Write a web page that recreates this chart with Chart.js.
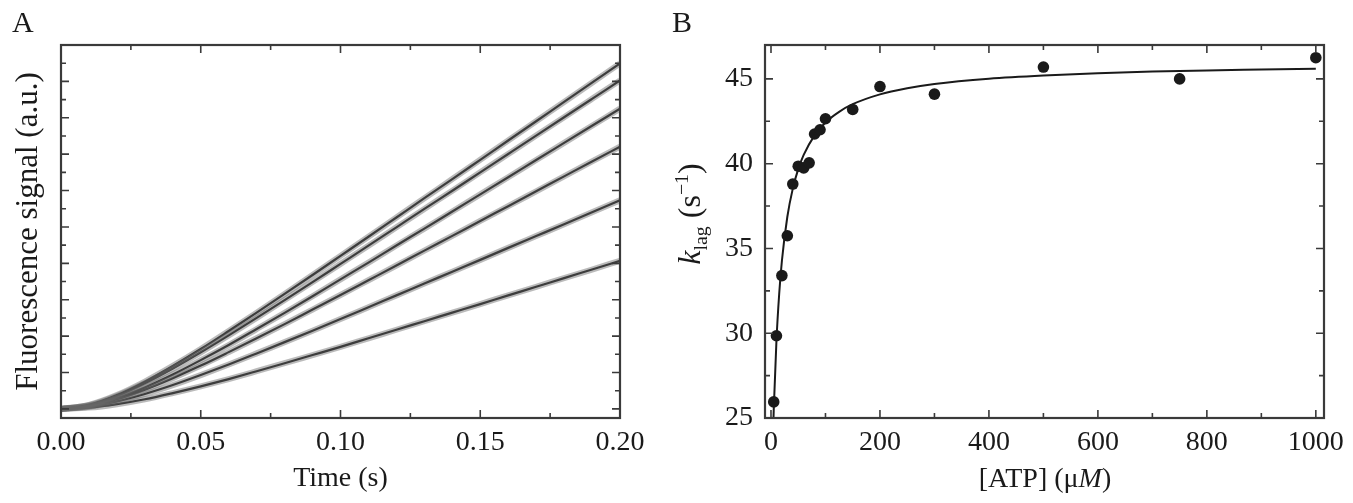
<!DOCTYPE html>
<html>
<head>
<meta charset="utf-8">
<script src="https://cdn.jsdelivr.net/npm/chart.js@4.4.1/dist/chart.umd.min.js"></script>
<style>
  html, body { margin: 0; padding: 0; background: #fff; }
  #wrap { position: relative; width: 1353px; height: 503px; background: #fff; overflow: hidden;
          font-family: "Liberation Serif", "DejaVu Serif", serif; color: #1a1a1a; }
  .cv { position: absolute; top: 0; height: 503px; }
  .lbl { position: absolute; white-space: nowrap; font-size: 28px; line-height: 1; }
  .panel { position: absolute; font-size: 30px; line-height: 1; }
  sub, sup { font-size: 62%; line-height: 0; }
</style>
</head>
<body>
<div id="wrap">
  <div class="cv" style="left:0;width:680px"><canvas id="chartA"></canvas></div>
  <div class="cv" style="left:640px;width:713px"><canvas id="chartB"></canvas></div>
  <div class="panel" style="left:12px;top:7px">A</div>
  <div class="panel" style="left:672px;top:7px">B</div>
  <div class="lbl" id="atpLbl" style="left:1045px;top:478px;transform:translate(-50%,-50%)">[ATP] (μ<i>M</i>)</div>
  <div class="lbl" id="kLbl" style="left:689px;top:214px;font-size:32px;transform:translate(-50%,-50%) rotate(-90deg)"><i>k</i><sub>lag</sub> (s<sup>−1</sup>)</div>
</div>
<script>
// ---------- Panel A: fitted fluorescence traces (a.u.) ----------
const timeS = [0, 0.01, 0.02, 0.03, 0.04, 0.05, 0.06, 0.07, 0.08, 0.09, 0.10,
               0.11, 0.12, 0.13, 0.14, 0.15, 0.16, 0.17, 0.18, 0.19, 0.20];
const traceA1 = [0, 0.22, 0.76, 1.50, 2.36, 3.29, 4.28, 5.29, 6.32, 7.36, 8.41,
                 9.46, 10.52, 11.58, 12.63, 13.69, 14.75, 15.81, 16.87, 17.93, 18.99];
const traceA2 = [0, 0.20, 0.71, 1.41, 2.22, 3.11, 4.04, 5.00, 5.98, 6.97, 7.97,
                 8.97, 9.98, 10.99, 11.99, 13.00, 14.01, 15.02, 16.03, 17.04, 18.05];
const traceA3 = [0, 0.17, 0.59, 1.18, 1.89, 2.68, 3.51, 4.39, 5.28, 6.19, 7.12,
                 8.04, 8.98, 9.91, 10.85, 11.79, 12.73, 13.68, 14.62, 15.56, 16.50];
const traceA4 = [0, 0.15, 0.53, 1.06, 1.69, 2.38, 3.12, 3.88, 4.66, 5.46, 6.26,
                 7.07, 7.88, 8.70, 9.51, 10.33, 11.14, 11.96, 12.78, 13.60, 14.41];
const traceA5 = [0, 0.12, 0.41, 0.82, 1.31, 1.86, 2.44, 3.05, 3.67, 4.30, 4.94,
                 5.59, 6.24, 6.89, 7.54, 8.19, 8.85, 9.50, 10.15, 10.81, 11.46];
const traceA6 = [0, 0.07, 0.26, 0.53, 0.87, 1.24, 1.64, 2.07, 2.51, 2.96, 3.41,
                 3.88, 4.35, 4.82, 5.29, 5.76, 6.24, 6.71, 7.19, 7.66, 8.14];
const xTicksA = [0, 0.05, 0.10, 0.15, 0.20];

// ---------- Panel B: k_lag vs [ATP] ----------
const atpUM  = [5, 10, 20, 30, 40, 50, 60, 70, 80, 90, 100, 150, 200, 300, 500, 750, 1000];
const kLag   = [25.95, 29.85, 33.4, 35.75, 38.8, 39.85, 39.75, 40.05, 41.75, 42.0, 42.65,
                43.2, 44.55, 44.1, 45.7, 45.0, 46.25];
const fitAtp = [3, 5, 10, 15, 20, 30, 40, 50, 60, 80, 100, 125, 150, 200, 250, 300,
                400, 500, 600, 700, 800, 900, 1000];
const fitK   = [23.2, 25.45, 29.56, 32.3, 34.26, 36.87, 38.53, 39.68, 40.52, 41.67, 42.43,
                43.06, 43.51, 44.09, 44.45, 44.7, 45.01, 45.2, 45.33, 45.43, 45.5, 45.55, 45.6];
const xTicksB = [0, 200, 400, 600, 800, 1000];
const yTicksB = [25, 30, 35, 40, 45];

const FONT = '"Liberation Serif", "DejaVu Serif", serif';
const INK = '#1a1a1a';
const FRAME = '#3a3a3a';

// Frame and inward ticks on all four sides, placed through the scales
const frameTicks = {
  id: 'frameTicks',
  afterDatasetsDraw(chart, args, opts) {
    const { ctx, chartArea: a, scales } = chart;
    const xs = scales.x, ys = scales.y;
    ctx.save();
    ctx.strokeStyle = FRAME;
    ctx.lineWidth = 1.6;
    ctx.beginPath();
    xs.ticks.forEach(t => {
      if (t.value < xs.min - 1e-9 || t.value > xs.max + 1e-9) return;
      const px = xs.getPixelForValue(t.value);
      const len = opts.xMajor(t.value) ? 8 : 5;
      ctx.moveTo(px, a.bottom); ctx.lineTo(px, a.bottom - len);
      ctx.moveTo(px, a.top); ctx.lineTo(px, a.top + len);
    });
    ys.ticks.forEach(t => {
      if (t.value < ys.min - 1e-9 || t.value > ys.max + 1e-9) return;
      const py = ys.getPixelForValue(t.value);
      const len = opts.yMajor(t.value) ? 8 : 5;
      ctx.moveTo(a.left, py); ctx.lineTo(a.left + len, py);
      ctx.moveTo(a.right, py); ctx.lineTo(a.right - len, py);
    });
    ctx.stroke();
    ctx.lineWidth = 2.2;
    ctx.strokeRect(a.left, a.top, a.right - a.left, a.bottom - a.top);
    ctx.restore();
  }
};

function lineDs(xs, ys, color, width) {
  return {
    type: 'line',
    data: xs.map((x, i) => ({ x, y: ys[i] })),
    borderColor: color || INK, borderWidth: width || 2, pointRadius: 0,
    cubicInterpolationMode: 'monotone', fill: false
  };
}

const near = (v, step) => Math.abs(v / step - Math.round(v / step)) < 1e-6;

const tracesA = [traceA6, traceA5, traceA4, traceA3, traceA2, traceA1];

// ---------------- Chart A ----------------
new Chart(document.getElementById('chartA'), {
  type: 'line',
  data: {
    datasets: [
      // soft grey band standing in for the raw (noisy) recording under each fit
      ...tracesA.map(ys => lineDs(timeS, ys, 'rgba(105,105,105,0.45)', 6)),
      ...tracesA.map(ys => lineDs(timeS, ys, INK, 2.2))
    ]
  },
  options: {
    responsive: true, maintainAspectRatio: false, animation: false,
    layout: { padding: { top: 45, right: 60, left: 0, bottom: 0 } },
    plugins: { legend: { display: false }, tooltip: { enabled: false },
      frameTicks: { xMajor: v => near(v, 0.05), yMajor: v => near(v, 2) } },
    scales: {
      x: {
        type: 'linear', min: 0, max: 0.2,
        afterFit: s => { s.height = 85; s.paddingLeft = 0; s.paddingRight = 0; },
        grid: { display: false, drawTicks: false },
        border: { display: false },
        ticks: { stepSize: 0.025, includeBounds: false, maxRotation: 0, autoSkip: false,
          padding: 8, color: INK, font: { family: FONT, size: 28 },
          callback: v => near(v, 0.05) ? v.toFixed(2) : '' },
        title: { display: true, text: 'Time (s)', color: INK, font: { family: FONT, size: 28 },
          padding: { top: 0, bottom: 8 } }
      },
      y: {
        type: 'linear', min: -0.5, max: 20,
        afterFit: s => { s.width = 61; },
        grid: { display: false, drawTicks: false },
        border: { display: false },
        ticks: { stepSize: 1, includeBounds: false, display: false },
        title: { display: true, text: 'Fluorescence signal (a.u.)', color: INK,
          font: { family: FONT, size: 31 }, padding: { top: 10, bottom: 0 } }
      }
    }
  },
  plugins: [frameTicks]
});

// ---------------- Chart B ----------------
new Chart(document.getElementById('chartB'), {
  type: 'scatter',
  data: {
    datasets: [
      lineDs(fitAtp, fitK, INK, 2),
      {
        type: 'scatter',
        data: atpUM.map((x, i) => ({ x, y: kLag[i] })),
        backgroundColor: INK, borderColor: INK, pointRadius: 5.8, pointBorderWidth: 0
      }
    ]
  },
  options: {
    responsive: true, maintainAspectRatio: false, animation: false,
    layout: { padding: { top: 45, right: 29, left: 0, bottom: 0 } },
    plugins: { legend: { display: false }, tooltip: { enabled: false },
      frameTicks: { xMajor: v => near(v, 200), yMajor: v => near(v, 5) } },
    scales: {
      x: {
        type: 'linear', min: -11, max: 1015,
        afterFit: s => { s.height = 85; s.paddingLeft = 0; s.paddingRight = 0; },
        grid: { display: false, drawTicks: false },
        border: { display: false },
        ticks: { stepSize: 100, includeBounds: false, maxRotation: 0, autoSkip: false,
          padding: 8, color: INK, font: { family: FONT, size: 28 },
          callback: v => near(v, 200) ? String(Math.round(v)) : '' },
        title: { display: false }
      },
      y: {
        type: 'linear', min: 25, max: 47,
        afterFit: s => { s.width = 125; },
        grid: { display: false, drawTicks: false },
        border: { display: false },
        ticks: { stepSize: 2.5, includeBounds: false, autoSkip: false, padding: 12,
          color: INK, font: { family: FONT, size: 28 },
          callback: v => near(v, 5) ? String(Math.round(v)) : '' },
        title: { display: false }
      }
    }
  },
  plugins: [frameTicks]
});
</script>
</body>
</html>
